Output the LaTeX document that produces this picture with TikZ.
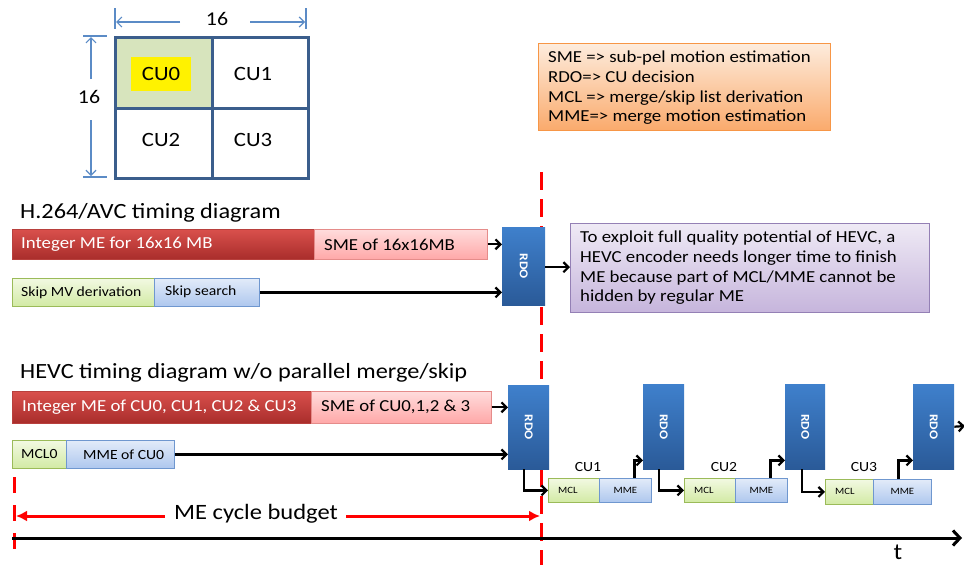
\documentclass[tikz,border=0pt]{standalone}
\usepackage{fontspec}
\usepackage{graphicx}
\setmainfont{Carlito}[FakeStretch=1.12]
\usetikzlibrary{arrows.meta}

\definecolor{gridblue}{HTML}{3B5E8C}
\definecolor{dimblue}{HTML}{5B8BC6}
\definecolor{cellgreen}{HTML}{D7E4BD}
\definecolor{redtop}{HTML}{D9504C}
\definecolor{redbot}{HTML}{A92D2B}
\definecolor{redline}{HTML}{B8403D}
\definecolor{pinktop}{HTML}{FFDCDC}
\definecolor{pinkbot}{HTML}{FFA8A8}
\definecolor{pinkline}{HTML}{E58C8A}
\definecolor{greentop}{HTML}{F2F9E2}
\definecolor{greenbot}{HTML}{D2EAA4}
\definecolor{greenline}{HTML}{9BBB59}
\definecolor{bluetop}{HTML}{E2EBF9}
\definecolor{bluebot}{HTML}{AEC7EE}
\definecolor{blueline}{HTML}{6F97CF}
\definecolor{rdotop}{HTML}{3F80CC}
\definecolor{rdobot}{HTML}{2A5A98}
\definecolor{orangetop}{HTML}{FDECDD}
\definecolor{orangebot}{HTML}{FAAA6C}
\definecolor{orangeline}{HTML}{F79646}
\definecolor{purpletop}{HTML}{EFEAF5}
\definecolor{purplebot}{HTML}{C6B5DC}
\definecolor{purpleline}{HTML}{9480B5}
\definecolor{budgetred}{HTML}{FF0000}

\begin{document}
\begin{tikzpicture}[x=1pt,y=-1pt,
  cell/.style={draw=gridblue, line width=3pt, anchor=north west, inner sep=0pt},
  celltext/.style={font=\fontsize{20.3}{24}\selectfont},
  dimline/.style={draw=dimblue, line width=1.2pt},
  dimarr/.style={dimline, -{Straight Barb[length=5pt,width=10pt]}},
  dimtext/.style={font=\fontsize{19.5}{24}\selectfont},
  anybox/.style={anchor=north west, inner sep=0pt, shading=axis},
  redbar/.style={anybox, top color=redtop, bottom color=redbot, draw=redline, line width=0.6pt},
  pinkbar/.style={anybox, top color=pinktop, bottom color=pinkbot, draw=pinkline, line width=0.6pt},
  greenbox/.style={anybox, top color=greentop, bottom color=greenbot, draw=greenline, line width=0.8pt},
  bluebox/.style={anybox, top color=bluetop, bottom color=bluebot, draw=blueline, line width=0.8pt},
  rdobox/.style={anybox, top color=rdotop, bottom color=rdobot, draw=none,
    text=white, font=\bfseries\fontsize{12}{14}\selectfont},
  bartext/.style={anchor=west, inner sep=0pt, font=\fontsize{16.8}{20}\selectfont},
  smalltext/.style={anchor=west, inner sep=0pt, font=\fontsize{14}{17}\selectfont},
  tinytext/.style={inner sep=0pt, font=\fontsize{9.6}{12}\selectfont},
  cutext/.style={inner sep=0pt, font=\fontsize{14}{17}\selectfont},
  title/.style={anchor=west, inner sep=0pt, font=\fontsize{21.7}{25}\selectfont},
  boxtext/.style={anchor=west, inner sep=0pt, align=left, font=\fontsize{16.8}{19.7}\selectfont},
  conn/.style={draw=black, line width=2.2pt, -{Straight Barb[length=5pt,width=10pt]}},
  deadline/.style={draw=budgetred, line width=3pt, dash pattern=on 18pt off 9pt},
  budget/.style={draw=budgetred, line width=3pt, -{Latex[length=11pt,width=11pt]}}
]
\useasboundingbox (0,0) rectangle (964,565);

% ---------- 16x16 block split into four CUs ----------
\node[cell, fill=cellgreen, minimum width=97pt, minimum height=71pt] (c0) at (114,36) {};
\node[cell, minimum width=96pt, minimum height=71pt] (c1) at (211,36) {};
\node[cell, minimum width=97pt, minimum height=70pt] (c2) at (114,107) {};
\node[cell, minimum width=96pt, minimum height=70pt] (c3) at (211,107) {};
\node[celltext, fill=yellow, minimum width=60pt, minimum height=34pt, inner sep=0pt] (cu0) at (161,74) {CU0};
\node[celltext] (cu1) at (253,74) {CU1};
\node[celltext] (cu2) at (161,140) {CU2};
\node[celltext] (cu3) at (253,140) {CU3};

% width dimension
\draw[dimline] (115,8) -- (115,29);
\draw[dimline] (306,8) -- (306,29);
\node[dimtext] (dimh) at (217,19) {16};
\coordinate (hl0) at (180,22); \coordinate (hl1) at (116,22);
\coordinate (hr0) at (250,22); \coordinate (hr1) at (305,22);
\draw[dimarr] (hl0) -- (hl1);
\draw[dimarr] (hr0) -- (hr1);
% height dimension
\draw[dimline] (83,36) -- (107,36);
\draw[dimline] (83,177) -- (107,177);
\node[dimtext] (dimv) at (89,97) {16};
\coordinate (vt0) at (91,79);  \coordinate (vt1) at (91,37);
\coordinate (vb0) at (91,120); \coordinate (vb1) at (91,176);
\draw[dimarr] (vt0) -- (vt1);
\draw[dimarr] (vb0) -- (vb1);

% ---------- legend ----------
\node[anybox, top color=orangetop, bottom color=orangebot, draw=orangeline, line width=0.8pt,
  minimum width=292pt, minimum height=87pt] (legend) at (538,43) {};
\node[boxtext] (legendtxt) at ([xshift=10pt,yshift=-1pt]legend.west)
  {SME => sub-pel motion estimation\\RDO=> CU decision\\MCL => merge/skip list derivation\\MME=> merge motion estimation};

% ---------- deadline ----------
\coordinate (dl0) at (541,172);
\coordinate (dl1) at (541,566);
\draw[deadline] (dl0) -- (dl1);

% ---------- H.264/AVC timing ----------
\node[title] (t264) at (20,213) {H.264/AVC timing diagram};
\node[redbar, minimum width=302pt, minimum height=30pt] (imeA) at (12,229) {};
\node[bartext, text=white] (imeAt) at ([xshift=9pt]imeA.west) {Integer ME for 16x16 MB};
\node[pinkbar, minimum width=173pt, minimum height=30pt] (smeA) at (314,229) {};
\node[bartext] (smeAt) at ([xshift=10pt]smeA.west) {SME of 16x16MB};
\node[greenbox, minimum width=142pt, minimum height=28pt] (skipmv) at (12,278) {};
\node[smalltext] (skipmvt) at ([xshift=9pt]skipmv.west) {Skip MV derivation};
\node[bluebox, minimum width=105pt, minimum height=28pt] (skips) at (154,278) {};
\node[smalltext] (skipst) at ([xshift=11pt,yshift=1pt]skips.west) {Skip search};
\node[rdobox, minimum width=43pt, minimum height=78pt] (rdoA) at (502,227) {\rotatebox{-90}{RDO}};
\node[anybox, top color=purpletop, bottom color=purplebot, draw=purpleline, line width=0.8pt,
  minimum width=359pt, minimum height=89pt] (note) at (570,223) {};
\node[boxtext] (notetxt) at ([xshift=10pt]note.west)
  {To exploit full quality potential of HEVC, a\\HEVC encoder needs longer time to finish\\ME because part of MCL/MME cannot be\\hidden by regular ME};

\draw[conn] (smeA.east) -- (smeA.east -| rdoA.west);
\draw[conn] (skips.east) -- (skips.east -| rdoA.west);
\draw[conn] ([yshift=-1pt]rdoA.east) -- ([yshift=-1pt]rdoA.east -| note.west);

% ---------- HEVC timing ----------
\node[title] (thevc) at (20,373) {HEVC timing diagram w/o parallel merge/skip};
\node[redbar, minimum width=299pt, minimum height=32pt] (imeB) at (12,391) {};
\node[bartext, text=white] (imeBt) at ([xshift=10pt]imeB.west) {Integer ME of CU0, CU1, CU2 \& CU3};
\node[pinkbar, minimum width=180pt, minimum height=32pt] (smeB) at (311,391) {};
\node[bartext] (smeBt) at ([xshift=10pt]smeB.west) {SME of CU0,1,2 \& 3};
\node[greenbox, minimum width=54pt, minimum height=28pt] (mcl0) at (12,440) {};
\node[smalltext] (mcl0t) at ([xshift=9pt]mcl0.west) {MCL0};
\node[bluebox, minimum width=108pt, minimum height=28pt] (mme0) at (66,440) {};
\node[smalltext] (mme0t) at ([xshift=17pt]mme0.west) {MME of CU0};

\node[rdobox, minimum width=41pt, minimum height=84pt] (rdo1) at (508,385) {\rotatebox{-90}{RDO}};
\node[rdobox, minimum width=41pt, minimum height=85pt] (rdo2) at (643,384) {\rotatebox{-90}{RDO}};
\node[rdobox, minimum width=40pt, minimum height=85pt] (rdo3) at (785,384) {\rotatebox{-90}{RDO}};
\node[rdobox, minimum width=41pt, minimum height=85pt] (rdo4) at (913,384) {\rotatebox{-90}{RDO}};

\node[greenbox, minimum width=51pt, minimum height=24pt] (mcl1) at (548,478) {};
\node[bluebox, minimum width=52pt, minimum height=24pt] (mme1) at (599,478) {};
\node[greenbox, minimum width=51pt, minimum height=24pt] (mcl2) at (684,478) {};
\node[bluebox, minimum width=52pt, minimum height=24pt] (mme2) at (735,478) {};
\node[greenbox, minimum width=48pt, minimum height=25pt] (mcl3) at (825,479) {};
\node[bluebox, minimum width=58pt, minimum height=25pt] (mme3) at (873,479) {};
\foreach \b in {mcl1,mcl2,mcl3} \node[tinytext, anchor=west] (\b t) at ([xshift=10pt]\b.west) {MCL};
\foreach \b in {mme1,mme2,mme3} \node[tinytext] (\b t) at (\b) {MME};
\node[cutext] (cu1lab) at (588,467) {CU1};
\node[cutext] (cu2lab) at (724,467) {CU2};
\node[cutext] (cu3lab) at (864,467) {CU3};

\draw[conn] (smeB.east) -- (smeB.east -| rdo1.west);
\draw[conn] (mme0.east) -- (mme0.east -| rdo1.west);
\draw[conn] ([xshift=-5pt]rdo1.south) |- (mcl1.west);
\draw[conn] ([xshift=9pt]mme1.north) |- ([yshift=9pt]rdo2.south west);
\draw[conn] ([xshift=-5pt]rdo2.south) |- (mcl2.west);
\draw[conn] ([xshift=9pt]mme2.north) |- ([yshift=9pt]rdo3.south west);
\draw[conn] ([xshift=-3pt]rdo3.south) |- (mcl3.west);
\draw[conn] ([xshift=-4pt]mme3.north) |- ([yshift=9pt]rdo4.south west);
\coordinate (rdo4out) at (965,426);
\draw[conn] (rdo4.east) -- (rdo4out);

% ---------- ME cycle budget and time axis ----------
\coordinate (st0) at (14,477);
\coordinate (st1) at (14,550);
\draw[draw=budgetred, line width=3pt, dash pattern=on 16pt off 12pt] (st0) -- (st1);
\node[inner sep=0pt, font=\fontsize{21.9}{26}\selectfont] (budgettxt) at (256,514) {ME cycle budget};
\coordinate (bl) at (16,516);
\coordinate (br) at (540,516);
\draw[budget] ([xshift=-9pt,yshift=-2pt]budgettxt.west) -- (bl);
\draw[budget] ([xshift=8pt,yshift=-2pt]budgettxt.east) -- (br);

\coordinate (ax0) at (12,538);
\coordinate (ax1) at (962,538);
\draw[draw=black, line width=3pt, -{Straight Barb[length=7pt,width=15pt]}] (ax0) -- (ax1);
\node[inner sep=0pt, font=\fontsize{23}{26}\selectfont] (tlab) at (898,552) {t};
\end{tikzpicture}
\end{document}
